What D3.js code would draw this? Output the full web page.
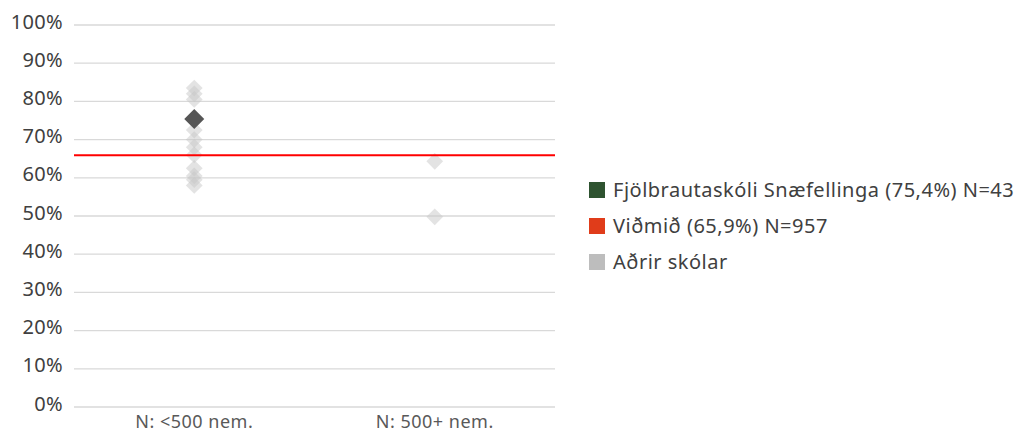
<!DOCTYPE html>
<html>
<head>
<meta charset="utf-8">
<script src="https://cdn.jsdelivr.net/npm/d3@7"></script>
<style>
  html, body { margin: 0; padding: 0; background: #fff; }
  svg { display: block; font-family: "Noto Sans", "Open Sans", sans-serif; }
</style>
</head>
<body>
<svg id="chart" width="1020" height="434"></svg>
<script>
// School-size groups on the x axis
const categories = ["N: <500 nem.", "N: 500+ nem."];
// Other schools, per group (percent)
const otherSmall = [83.5, 82, 80.5, 72.5, 70, 68, 66, 62.5, 60.5, 59.5, 58];
const otherLarge = [64.3, 49.8];
// Highlighted school and benchmark (percent)
const schoolName = "Fjölbrautaskóli Snæfellinga";
const schoolValue = 75.4;
const schoolN = 43;
const schoolCategory = "N: <500 nem.";
const benchmarkValue = 65.9;
const benchmarkN = 957;
const yTicks = [0, 10, 20, 30, 40, 50, 60, 70, 80, 90, 100];

const legendItems = [
  { label: `${schoolName} (${String(schoolValue).replace(".", ",")}%) N=${schoolN}`, color: "#2e5330" },
  { label: `Viðmið (${String(benchmarkValue).replace(".", ",")}%) N=${benchmarkN}`, color: "#e03c1a" },
  { label: "Aðrir skólar", color: "#bdbdbd" }
];

const svg = d3.select("#chart");
const plot = { left: 74, right: 555, top: 25, bottom: 407 };

const x = d3.scaleBand().domain(categories).range([plot.left, plot.right]);
const y = d3.scaleLinear().domain([0, 100]).range([plot.bottom, plot.top]);

// Horizontal gridlines
svg.append("g").selectAll("line").data(yTicks).join("line")
  .attr("x1", plot.left).attr("x2", plot.right)
  .attr("y1", d => y(d)).attr("y2", d => y(d))
  .attr("stroke", "#d9d9d9").attr("stroke-width", 1.3);

// Y tick labels
svg.append("g").selectAll("text").data(yTicks).join("text")
  .attr("x", 63).attr("y", d => y(d) + 3.5)
  .attr("text-anchor", "end")
  .attr("font-size", 20).attr("letter-spacing", 0.3).attr("fill", "#404040")
  .text(d => d + "%");

// X category labels
svg.append("g").selectAll("text").data(categories).join("text")
  .attr("x", d => x(d) + x.bandwidth() / 2).attr("y", 428)
  .attr("text-anchor", "middle")
  .attr("font-size", 18).attr("letter-spacing", 0.5).attr("fill", "#595959")
  .text(d => d);

const diamond = d3.symbol().type(d3.symbolSquare);

// Other schools
const others = [
  ...otherSmall.map(v => ({ cat: categories[0], v })),
  ...otherLarge.map(v => ({ cat: categories[1], v }))
];
svg.append("g").selectAll("path").data(others).join("path")
  .attr("d", diamond.size(140)())
  .attr("transform", d => `translate(${x(d.cat) + x.bandwidth() / 2},${y(d.v)}) rotate(45)`)
  .attr("fill", "#c8c8c8").attr("fill-opacity", 0.5);

// Benchmark line
svg.append("line")
  .attr("x1", plot.left).attr("x2", plot.right)
  .attr("y1", y(benchmarkValue)).attr("y2", y(benchmarkValue))
  .attr("stroke", "#ff0000").attr("stroke-width", 2);

// Highlighted school
svg.append("path")
  .attr("d", diamond.size(200)())
  .attr("transform", `translate(${x(schoolCategory) + x.bandwidth() / 2},${y(schoolValue)}) rotate(45)`)
  .attr("fill", "#555555");

// Legend
const lg = svg.append("g").attr("transform", "translate(589,190)");
const rows = lg.selectAll("g").data(legendItems).join("g")
  .attr("transform", (d, i) => `translate(0,${i * 36})`);
rows.append("rect").attr("x", 0).attr("y", -8).attr("width", 16).attr("height", 16)
  .attr("fill", d => d.color);
rows.append("text").attr("x", 24).attr("y", 7)
  .attr("font-size", 20).attr("letter-spacing", 0.5).attr("fill", "#404040")
  .text(d => d.label);
</script>
</body>
</html>
